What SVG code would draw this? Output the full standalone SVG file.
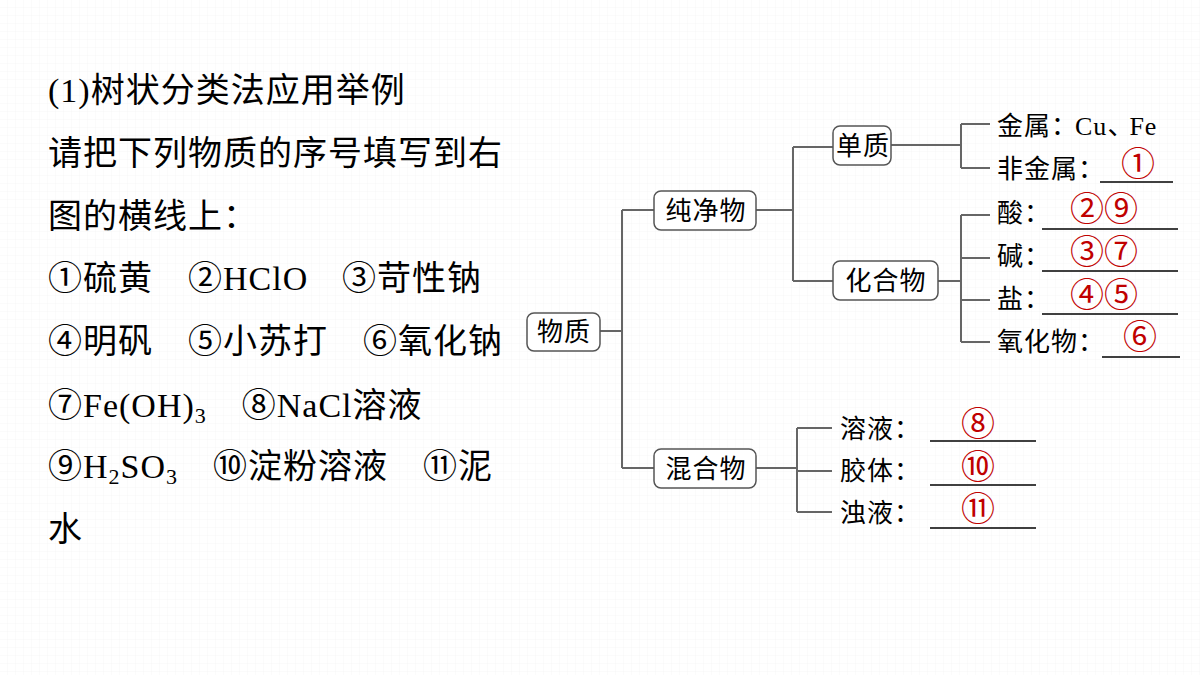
<svg xmlns="http://www.w3.org/2000/svg" width="1200" height="675" viewBox="0 0 1200 675">
<defs>
<pattern id="g" width="8" height="8" patternUnits="userSpaceOnUse"><path d="M8 0V8H0" fill="none" stroke="#f6f6f6" stroke-width="1"/></pattern>
<style>
.t{font-family:"Liberation Serif","Noto Sans CJK SC",serif;font-size:34px;letter-spacing:1px;fill:#000}
.n{font-family:"Liberation Serif","Noto Sans CJK SC",serif;font-size:26px;letter-spacing:1px;fill:#000}
.r{font-family:"Liberation Serif","Noto Sans CJK SC",serif;font-size:34px;fill:#c00000;text-anchor:middle}
.b{fill:#fff;stroke:#555;stroke-width:1.5}
.c{fill:none;stroke:#666;stroke-width:2}
.u{stroke:#000;stroke-width:1.5}
</style>
</defs>
<rect width="1200" height="675" fill="#fff"/>
<rect width="1200" height="675" fill="url(#g)"/>
<g id="intro">
<text class="t" x="48" y="102">(1)树状分类法应用举例</text>
<text class="t" x="48" y="165">请把下列物质的序号填写到右</text>
<text class="t" x="48" y="228">图的横线上：</text>
<text class="t" x="48" y="290">①硫黄　②HClO <tspan x="342">③苛性钠</tspan></text>
<text class="t" x="48" y="353">④明矾　⑤小苏打　⑥氧化钠</text>
<text class="t" x="48" y="417">⑦Fe(OH)<tspan font-size="22" dy="6">3</tspan><tspan dy="-6">　⑧NaCl溶液</tspan></text>
<text class="t" x="48" y="478">⑨H<tspan font-size="22" dy="6">2</tspan><tspan dy="-6">SO</tspan><tspan font-size="22" dy="6">3</tspan><tspan dy="-6">　⑩淀粉溶液　⑪泥</tspan></text>
<text class="t" x="48" y="541">水</text>
</g>
<g id="connectors">
<path class="c" d="M600 331H622M622 210V468M622 210H654M622 468H654"/>
<path class="c" d="M756 210H793M793 147V281M793 147H833M793 281H833"/>
<path class="c" d="M891 145H961M961 124V168M961 124H990M961 168H990"/>
<path class="c" d="M938 281H961M961 215V342M961 215H990M961 258H990M961 300H990M961 342H990"/>
<path class="c" d="M756 468H797M797 428V512M797 428H832M797 471H832M797 512H832"/>
</g>
<g id="n-wuzhi"><rect class="b" x="527" y="313" width="73" height="38" rx="7"/><text class="n" x="564" y="341" text-anchor="middle">物质</text></g>
<g id="n-chunjingwu"><rect class="b" x="654" y="191" width="102" height="39" rx="7"/><text class="n" x="706" y="220" text-anchor="middle">纯净物</text></g>
<g id="n-hunhewu"><rect class="b" x="654" y="449" width="102" height="39" rx="7"/><text class="n" x="706" y="478" text-anchor="middle">混合物</text></g>
<g id="n-danzhi"><rect class="b" x="833" y="126" width="58" height="39" rx="7"/><text class="n" x="863" y="155" text-anchor="middle">单质</text></g>
<g id="n-huahewu"><rect class="b" x="833" y="261" width="105" height="39" rx="7"/><text class="n" x="886" y="290" text-anchor="middle">化合物</text></g>
<g id="leaves">
<text class="n" x="997" y="135">金属<tspan letter-spacing="-2">：</tspan>Cu<tspan letter-spacing="-4">、</tspan>Fe</text>
<text class="n" x="997" y="178">非金属：</text><line class="u" x1="1100" y1="182" x2="1173" y2="182"/><text class="r" x="1138" y="176">①</text>
<text class="n" x="997" y="222">酸：</text><line class="u" x1="1042" y1="229" x2="1178" y2="229"/><text class="r" x="1104" y="221">②⑨</text>
<text class="n" x="997" y="265">碱：</text><line class="u" x1="1042" y1="271" x2="1178" y2="271"/><text class="r" x="1104" y="264">③⑦</text>
<text class="n" x="997" y="308">盐：</text><line class="u" x1="1042" y1="314" x2="1178" y2="314"/><text class="r" x="1104" y="307">④⑤</text>
<text class="n" x="997" y="351">氧化物：</text><line class="u" x1="1102" y1="357" x2="1180" y2="357"/><text class="r" x="1140" y="349">⑥</text>
<text class="n" x="840" y="438">溶液：</text><line class="u" x1="930" y1="441" x2="1036" y2="441"/><text class="r" x="978" y="436">⑧</text>
<text class="n" x="840" y="480">胶体：</text><line class="u" x1="930" y1="485" x2="1036" y2="485"/><text class="r" x="978" y="479">⑩</text>
<text class="n" x="840" y="522">浊液：</text><line class="u" x1="930" y1="528" x2="1036" y2="528"/><text class="r" x="978" y="521">⑪</text>
</g>
</svg>
